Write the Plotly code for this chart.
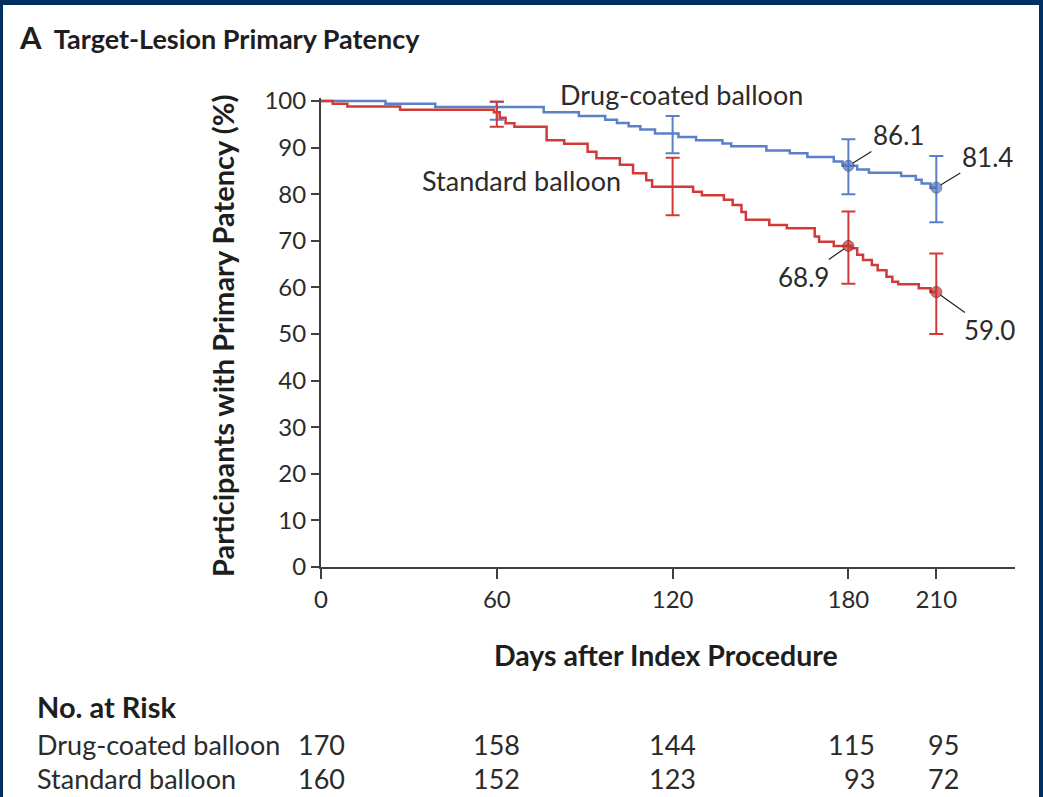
import plotly.graph_objects as go

# ---------------- data ----------------
dcb_days = [0, 22, 39, 76, 88, 97, 101, 105, 109, 114, 122, 128, 137, 140, 152, 160, 166, 175, 178, 183, 187, 198, 203, 205, 208, 210]
dcb_surv = [100, 99.4, 98.7, 97.6, 96.8, 96.0, 95.3, 94.6, 93.9, 93.0, 92.3, 91.6, 90.9, 90.3, 89.4, 88.8, 88.0, 87.0, 86.1, 85.3, 84.6, 83.9, 83.1, 82.3, 81.4, 81.4]

std_days = [0, 4, 9, 27, 59, 61, 63, 66, 77, 83, 91, 94, 102, 106.5, 111, 113, 127, 130, 137.5, 140.5, 143.5, 145, 153, 159, 168.5, 170, 175, 181, 183, 185, 188, 190, 193, 195, 197, 204, 208, 210]
std_surv = [100, 99.4, 98.8, 98.1, 97.6, 96.4, 95.2, 94.5, 91.6, 90.8, 89.1, 87.7, 86.3, 84.5, 83.0, 81.6, 80.5, 79.8, 78.8, 77.7, 76.2, 74.5, 73.4, 72.7, 70.9, 69.8, 68.9, 68.4, 67.0, 65.9, 64.8, 63.7, 62.3, 61.2, 60.7, 59.8, 59.0, 59.0]

ci_days = [60, 120, 180, 210]
dcb_ci_est = [98.7, 93.0, 86.1, 81.4]
dcb_ci_lo = [96.0, 88.8, 80.0, 74.0]
dcb_ci_hi = [99.8, 96.8, 91.8, 88.2]
std_ci_est = [97.6, 81.5, 68.9, 59.0]
std_ci_lo = [94.5, 75.5, 60.8, 50.0]
std_ci_hi = [99.9, 87.8, 76.3, 67.3]

label_days = [180, 210]
dcb_labels = ["86.1", "81.4"]
std_labels = ["68.9", "59.0"]

x_ticks = [0, 60, 120, 180, 210]
y_ticks = [0, 10, 20, 30, 40, 50, 60, 70, 80, 90, 100]

risk_days = [0, 60, 120, 180, 210]
dcb_risk = [170, 158, 144, 115, 95]
std_risk = [160, 152, 123, 93, 72]

# ---------------- styles ----------------
BLUE = "#5b80c8"
RED = "#d23a3a"
TXT = "#2b2b2b"
AX = "#404040"
NAVY = "#002f62"
FONT = "Lato"

W, H = 1043, 797
L, R, T, B = 321, 28, 98, 230
pw = W - L - R
ph = H - T - B


def pxx(x):
    return (x - L) / pw


def pxy(y):
    return (H - B - y) / ph


fig = go.Figure()

fig.add_trace(go.Scatter(x=dcb_days, y=dcb_surv, mode="lines", line=dict(color=BLUE, width=2.5, shape="hv"),
                         showlegend=False, hoverinfo="skip"))
fig.add_trace(go.Scatter(x=std_days, y=std_surv, mode="lines", line=dict(color=RED, width=2.5, shape="hv"),
                         showlegend=False, hoverinfo="skip"))

msize = [0, 0, 11, 11]
fig.add_trace(go.Scatter(
    x=ci_days, y=dcb_ci_est, mode="markers",
    marker=dict(size=msize, color="#5275bd", line=dict(color="#35528a", width=1)),
    error_y=dict(type="data", symmetric=False,
                 array=[h - e for h, e in zip(dcb_ci_hi, dcb_ci_est)],
                 arrayminus=[e - l for e, l in zip(dcb_ci_est, dcb_ci_lo)],
                 color=BLUE, thickness=2, width=7),
    showlegend=False, hoverinfo="skip", cliponaxis=False))
fig.add_trace(go.Scatter(
    x=ci_days, y=std_ci_est, mode="markers",
    marker=dict(size=msize, color="#c53535", line=dict(color="#7a1c1c", width=1)),
    error_y=dict(type="data", symmetric=False,
                 array=[h - e for h, e in zip(std_ci_hi, std_ci_est)],
                 arrayminus=[e - l for e, l in zip(std_ci_est, std_ci_lo)],
                 color=RED, thickness=2, width=7),
    showlegend=False, hoverinfo="skip", cliponaxis=False))

ann = []
# value labels with leader lines
offs_dcb = [(50, -31), (51, -31)]
offs_std = [(-45, 31), (53, 38)]
dcb_at = dict(zip(ci_days, dcb_ci_est))
std_at = dict(zip(ci_days, std_ci_est))
for d, t, (ax, ay) in zip(label_days, dcb_labels, offs_dcb):
    ann.append(dict(x=d, y=dcb_at[d], xref="x", yref="y", text=t, showarrow=True, arrowhead=0,
                    arrowwidth=1.2, arrowcolor="#222", ax=ax, ay=ay, standoff=5,
                    font=dict(size=26, color=TXT, family=FONT)))
for d, t, (ax, ay) in zip(label_days, std_labels, offs_std):
    ann.append(dict(x=d, y=std_at[d], xref="x", yref="y", text=t, showarrow=True, arrowhead=0,
                    arrowwidth=1.2, arrowcolor="#222", ax=ax, ay=ay, standoff=5,
                    font=dict(size=26, color=TXT, family=FONT)))

# series labels
ann.append(dict(x=pxx(558), y=pxy(95), xref="paper", yref="paper", text="Drug-coated balloon",
                showarrow=False, xanchor="left", yanchor="middle",
                font=dict(size=27, color=TXT, family=FONT)))
ann.append(dict(x=pxx(420), y=pxy(180), xref="paper", yref="paper", text="Standard balloon",
                showarrow=False, xanchor="left", yanchor="middle",
                font=dict(size=27, color=TXT, family=FONT)))

# title
ann.append(dict(x=pxx(17), y=pxy(37), xref="paper", yref="paper",
                text="<b><span style='font-size:31px'>A</span>  Target-Lesion Primary Patency</b>",
                showarrow=False, xanchor="left", yanchor="middle",
                font=dict(size=27, color="#1e1e1e", family=FONT)))

# axis titles
ann.append(dict(x=pxx(222), y=pxy(336), xref="paper", yref="paper",
                text="<b>Participants with Primary Patency (%)</b>", textangle=-90,
                showarrow=False, xanchor="center", yanchor="middle",
                font=dict(size=29, color="#1e1e1e", family=FONT)))
ann.append(dict(x=pxx(666), y=pxy(655), xref="paper", yref="paper",
                text="<b>Days after Index Procedure</b>",
                showarrow=False, xanchor="center", yanchor="middle",
                font=dict(size=28.5, color="#1e1e1e", family=FONT)))

# at-risk table
ann.append(dict(x=pxx(35), y=pxy(706), xref="paper", yref="paper", text="<b>No. at Risk</b>",
                showarrow=False, xanchor="left", yanchor="middle",
                font=dict(size=29, color="#1e1e1e", family=FONT)))
ann.append(dict(x=pxx(35), y=pxy(744), xref="paper", yref="paper", text="Drug-coated balloon",
                showarrow=False, xanchor="left", yanchor="middle",
                font=dict(size=27, color=TXT, family=FONT)))
ann.append(dict(x=pxx(35), y=pxy(778), xref="paper", yref="paper", text="Standard balloon",
                showarrow=False, xanchor="left", yanchor="middle",
                font=dict(size=27, color=TXT, family=FONT)))
for d, n1, n2 in zip(risk_days, dcb_risk, std_risk):
    if d == 180:
        kw = dict(xanchor="right", xshift=29)
    elif d == 210:
        kw = dict(xanchor="center", xshift=7)
    else:
        kw = dict(xanchor="center")
    ann.append(dict(x=d, y=pxy(744), xref="x", yref="paper", text=str(n1), showarrow=False,
                    yanchor="middle", font=dict(size=27, color=TXT, family=FONT), **kw))
    ann.append(dict(x=d, y=pxy(778), xref="x", yref="paper", text=str(n2), showarrow=False,
                    yanchor="middle", font=dict(size=27, color=TXT, family=FONT), **kw))

# navy frame
shapes = [
    dict(type="rect", xref="paper", yref="paper", x0=pxx(-2), x1=pxx(1045), y0=pxy(-2), y1=pxy(5),
         fillcolor=NAVY, line=dict(width=0), layer="above"),
    dict(type="rect", xref="paper", yref="paper", x0=pxx(-2), x1=pxx(3), y0=pxy(800), y1=pxy(-2),
         fillcolor=NAVY, line=dict(width=0), layer="above"),
    dict(type="rect", xref="paper", yref="paper", x0=pxx(1039), x1=pxx(1045), y0=pxy(800), y1=pxy(-2),
         fillcolor=NAVY, line=dict(width=0), layer="above"),
]

fig.update_layout(
    width=W, height=H,
    margin=dict(l=L, r=R, t=T, b=B, pad=0),
    paper_bgcolor="white", plot_bgcolor="white",
    font=dict(family=FONT, color=TXT),
    annotations=ann, shapes=shapes,
    xaxis=dict(range=[0, pw / 2.93], tickvals=x_ticks, ticks="outside", ticklen=10, tickwidth=2,
               tickcolor=AX, showline=True, linecolor=AX, linewidth=2, showgrid=False, zeroline=False,
               tickfont=dict(size=24, color=TXT, family=FONT), fixedrange=True),
    yaxis=dict(range=[0, ph / 4.66], tickvals=y_ticks, ticks="outside", ticklen=8, tickwidth=2,
               tickcolor=AX, showline=True, linecolor=AX, linewidth=2, showgrid=False, zeroline=False,
               tickfont=dict(size=24, color=TXT, family=FONT), fixedrange=True),
)

fig.write_html("out.html", config={"displayModeBar": False},
               post_script="document.body.style.margin='0';document.body.style.overflow='hidden';")
